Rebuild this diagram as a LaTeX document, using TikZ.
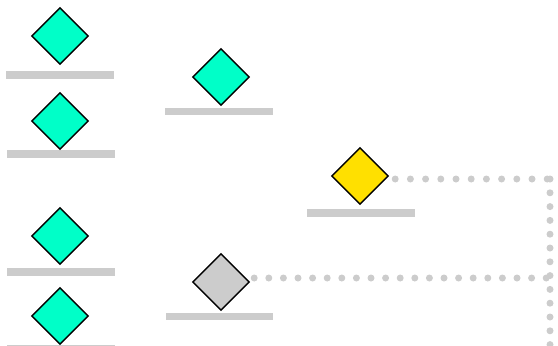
\documentclass[tikz,border=0pt]{standalone}
\usetikzlibrary{shapes.geometric,calc}
\definecolor{teal}{RGB}{0,255,200}
\definecolor{gold}{RGB}{255,224,0}
\definecolor{lgray}{RGB}{204,204,204}
\tikzset{
  dia/.style={diamond,aspect=1,minimum width=57pt,minimum height=57pt,inner sep=0pt,draw=black,line width=1.4pt},
  bar/.style={fill=lgray,draw=none},
  dotline/.style={draw=lgray,line width=7pt,line cap=round,dash pattern=on 0pt off #1},
}
\begin{document}
\begin{tikzpicture}[x=1pt,y=-1pt]
\useasboundingbox (0,0) rectangle (558,346);
\clip (0,0) rectangle (558,346);
% bars
\fill[bar] (6,71) rectangle (114,79);
\fill[bar] (7,150) rectangle (115,158);
\fill[bar] (7,268) rectangle (115,276);
\fill[bar] (7,345) rectangle (115,353);
\fill[bar] (165,108) rectangle (273,115);
\fill[bar] (166,313) rectangle (273,320);
\fill[bar] (307,209) rectangle (415,217);
% diamonds
\node[dia,fill=teal] (d1) at (60,36) {};
\node[dia,fill=teal] (d2) at (60,121) {};
\node[dia,fill=teal] (d3) at (60,236) {};
\node[dia,fill=teal] (d4) at (60,316) {};
\node[dia,fill=teal] (m1) at (221,77) {};
\node[dia,fill=lgray] (m2) at (221,282) {};
\node[dia,fill=gold] (y) at (360,176) {};
% connectors
\coordinate (c1) at (550,179);
\coordinate (c2) at (550,278);
\coordinate (c3) at (550,360);
\path[dotline=15.2pt] ($(y.east)+(6,3)$) -- (c1);
\path[dotline=13.8pt] (c1) -- (c3);
\path[dotline=14.6pt] ($(m2.east)+(4,-4)$) -- (c2);
\end{tikzpicture}
\end{document}
